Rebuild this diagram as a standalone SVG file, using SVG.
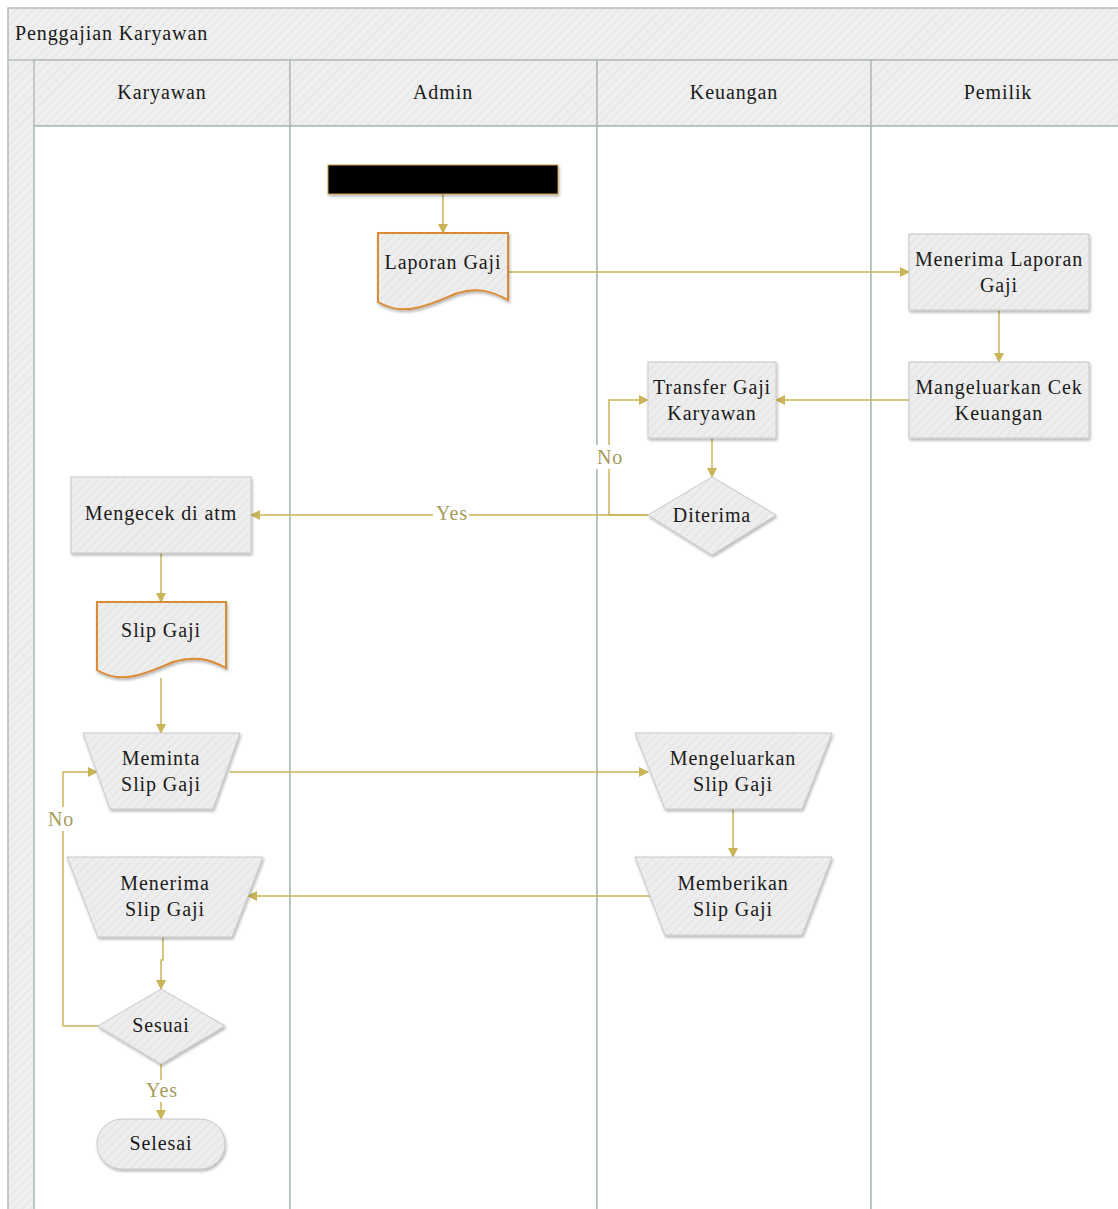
<svg xmlns="http://www.w3.org/2000/svg" width="1118" height="1209" viewBox="0 0 1118 1209">
<defs>
<pattern id="hatch" width="6" height="6" patternUnits="userSpaceOnUse" patternTransform="rotate(45)">
<rect width="6" height="6" fill="#efefef"/>
<line x1="0" y1="0" x2="0" y2="6" stroke="#e4e4e4" stroke-width="2"/>
</pattern>
<pattern id="hatch2" width="6" height="6" patternUnits="userSpaceOnUse" patternTransform="rotate(45)">
<rect width="6" height="6" fill="#ededed"/>
<line x1="0" y1="0" x2="0" y2="6" stroke="#e2e2e2" stroke-width="2"/>
</pattern>
<filter id="sh" x="-10%" y="-10%" width="125%" height="130%">
<feGaussianBlur in="SourceAlpha" stdDeviation="1.5"/>
<feOffset dx="1" dy="2" result="b"/>
<feComponentTransfer><feFuncA type="linear" slope="0.3"/></feComponentTransfer>
<feMerge><feMergeNode/><feMergeNode in="SourceGraphic"/></feMerge>
</filter>
<marker id="arr" viewBox="0 0 10 10" refX="9" refY="5" markerWidth="10" markerHeight="10" markerUnits="userSpaceOnUse" orient="auto">
<path d="M0,0 L10,5 L0,10 z" fill="#c9b458"/>
</marker>
</defs>
<style>
text{font-family:"Liberation Serif","Times New Roman",serif;fill:#1a1a1a;letter-spacing:0.9px;}
.t{font-size:20px;text-anchor:middle;}
.h{font-size:20px;text-anchor:middle;}
.frame{fill:url(#hatch);stroke:#b4bcbc;stroke-width:1.5;}
.lane{fill:#ffffff;stroke:#a8baba;stroke-width:1.5;}
.node{fill:url(#hatch2);stroke:#c8c8c8;stroke-width:1;filter:url(#sh);}
.doc{fill:url(#hatch2);stroke:#d98b36;stroke-width:2;filter:url(#sh);}
.ca{fill:none;stroke:#c9b458;stroke-width:1.5;marker-end:url(#arr);}
.lbl{font-size:20px;text-anchor:middle;fill:#a89a5a;}
</style>
<rect width="1118" height="1209" fill="#ffffff"/>
<g id="pool">
<rect class="frame" x="8" y="8" width="1130" height="1220"/>
<line x1="8" y1="60" x2="1118" y2="60" stroke="#b4bcbc" stroke-width="1.5"/>
<text x="15" y="40" style="font-size:20px">Penggajian Karyawan</text>
</g>
<g id="lane-karyawan">
<rect class="frame" x="34" y="60" width="256" height="66"/>
<rect class="lane" x="34" y="126" width="256" height="1100"/>
<text class="h" x="162" y="99">Karyawan</text>
</g>
<g id="lane-admin">
<rect class="frame" x="290" y="60" width="307" height="66"/>
<rect class="lane" x="290" y="126" width="307" height="1100"/>
<text class="h" x="443" y="99">Admin</text>
</g>
<g id="lane-keuangan">
<rect class="frame" x="597" y="60" width="274" height="66"/>
<rect class="lane" x="597" y="126" width="274" height="1100"/>
<text class="h" x="734" y="99">Keuangan</text>
</g>
<g id="lane-pemilik">
<rect class="frame" x="871" y="60" width="270" height="66"/>
<rect class="lane" x="871" y="126" width="270" height="1100"/>
<text class="h" x="998" y="99">Pemilik</text>
</g>

<g id="connectors">
<path class="ca" d="M443,194 V233"/>
<path class="ca" d="M508,272 H909"/>
<path class="ca" d="M999,310 V362"/>
<path class="ca" d="M909,400 H776"/>
<path class="ca" d="M712,438 V477"/>
<path class="ca" d="M648,515 H609 V400 H648"/>
<path class="ca" d="M648,515 H251"/>
<path class="ca" d="M161,553 V602"/>
<path class="ca" d="M161,678 V733"/>
<path class="ca" d="M230,772 H648"/>
<path class="ca" d="M733,809 V857"/>
<path class="ca" d="M650,896 H248"/>
<path class="ca" d="M163,937 V960 H161 V989"/>
<path class="ca" d="M98,1026 H63 V772 H97"/>
<path class="ca" d="M161,1064 V1119"/>
<rect x="594" y="445" width="30" height="24" fill="#ffffff"/>
<text class="lbl" x="610" y="464">No</text>
<rect x="433" y="503" width="36" height="22" fill="#ffffff"/>
<text class="lbl" x="452" y="520">Yes</text>
<rect x="45" y="807" width="32" height="24" fill="#ffffff"/>
<text class="lbl" x="61" y="826">No</text>
<rect x="144" y="1080" width="36" height="22" fill="#ffffff"/>
<text class="lbl" x="162" y="1097">Yes</text>
</g>

<g id="start">
<rect x="328" y="165" width="230" height="29" fill="#000000" stroke="#c9a050" stroke-width="1" filter="url(#sh)"/>
</g>
<g id="laporan-gaji">
<path class="doc" d="M378,233 H508 V300 C490,290 475,287 455,294 C430,304 405,318 378,302 Z"/>
<text class="t" x="443" y="269">Laporan Gaji</text>
</g>
<g id="menerima-laporan">
<rect class="node" x="909" y="234" width="180" height="76"/>
<text class="t" x="999" y="266">Menerima Laporan</text>
<text class="t" x="999" y="292">Gaji</text>
</g>
<g id="mangeluarkan-cek">
<rect class="node" x="909" y="362" width="180" height="76"/>
<text class="t" x="999" y="394">Mangeluarkan Cek</text>
<text class="t" x="999" y="420">Keuangan</text>
</g>
<g id="transfer-gaji">
<rect class="node" x="648" y="362" width="128" height="76"/>
<text class="t" x="712" y="394">Transfer Gaji</text>
<text class="t" x="712" y="420">Karyawan</text>
</g>
<g id="diterima">
<path class="node" d="M712,477 L776,515 L712,555 L648,515 Z"/>
<text class="t" x="712" y="522">Diterima</text>
</g>
<g id="mengecek-atm">
<rect class="node" x="71" y="477" width="180" height="76"/>
<text class="t" x="161" y="520">Mengecek di atm</text>
</g>
<g id="slip-gaji">
<path class="doc" d="M97,602 H226 V668 C208,658 193,656 173,662 C148,672 123,686 97,670 Z"/>
<text class="t" x="161" y="637">Slip Gaji</text>
</g>
<g id="meminta-slip">
<path class="node" d="M83,733 H240 L213,809 H110 Z"/>
<text class="t" x="161" y="765">Meminta</text>
<text class="t" x="161" y="791">Slip Gaji</text>
</g>
<g id="mengeluarkan-slip">
<path class="node" d="M635,733 H832 L802,809 H665 Z"/>
<text class="t" x="733" y="765">Mengeluarkan</text>
<text class="t" x="733" y="791">Slip Gaji</text>
</g>
<g id="memberikan-slip">
<path class="node" d="M635,857 H832 L802,935 H665 Z"/>
<text class="t" x="733" y="890">Memberikan</text>
<text class="t" x="733" y="916">Slip Gaji</text>
</g>
<g id="menerima-slip">
<path class="node" d="M67,857 H263 L232,937 H98 Z"/>
<text class="t" x="165" y="890">Menerima</text>
<text class="t" x="165" y="916">Slip Gaji</text>
</g>
<g id="sesuai">
<path class="node" d="M161,989 L225,1026 L161,1064 L98,1026 Z"/>
<text class="t" x="161" y="1032">Sesuai</text>
</g>
<g id="selesai">
<rect class="node" x="97" y="1119" width="128" height="50" rx="25" ry="25"/>
<text class="t" x="161" y="1150">Selesai</text>
</g>
</svg>
